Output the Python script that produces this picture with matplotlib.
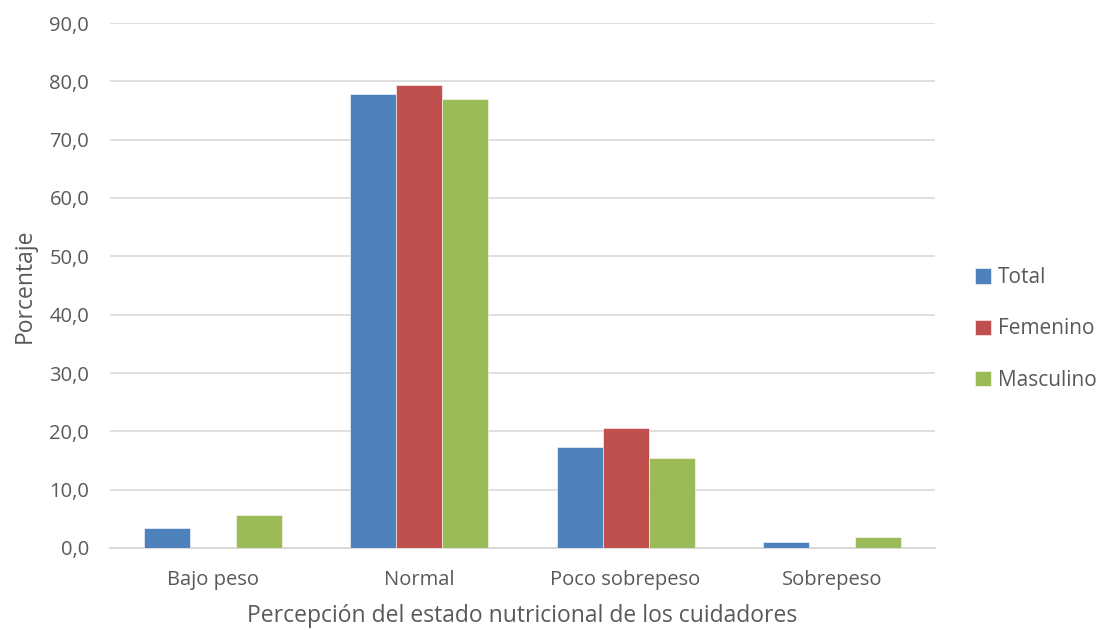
import matplotlib

matplotlib.use("Agg")

import matplotlib.pyplot as plt
import numpy as np
from matplotlib.ticker import FuncFormatter

categories = ["Bajo peso", "Normal", "Poco sobrepeso", "Sobrepeso"]
series_names = ["Total", "Femenino", "Masculino"]
total = [3.4, 77.9, 17.4, 1.1]
femenino = [0.0, 79.3, 20.6, 0.0]
masculino = [5.7, 76.9, 15.4, 1.9]
colors = ["#4f81bd", "#c0504d", "#9bbb59"]
text_color = "#595959"

plt.rcParams["font.family"] = ["Open Sans", "DejaVu Sans"]

W, H = 1098, 630
fig = plt.figure(figsize=(W / 100, H / 100), dpi=100)
ax = fig.add_axes([110 / W, (H - 548) / H, 825 / W, 525 / H])

x = np.arange(len(categories))
width = 0.223
for i, (name, vals) in enumerate(zip(series_names, [total, femenino, masculino])):
    ax.bar(x + (i - 1) * width, vals, width, color=colors[i], label=name,
           edgecolor="white", linewidth=0.4, zorder=3)

ax.set_xlim(-0.5, len(categories) - 0.5)
ax.set_ylim(0, 90)
ax.set_yticks(np.arange(0, 91, 10))
ax.yaxis.set_major_formatter(FuncFormatter(lambda v, _: f"{v:.1f}".replace(".", ",")))
ax.set_xticks(x)
ax.set_xticklabels(categories)
ax.grid(axis="y", color="#d9d9d9", linewidth=1.2, zorder=0)
for side in ["top", "right", "left"]:
    ax.spines[side].set_visible(False)
ax.spines["bottom"].set_color("#d9d9d9")
ax.spines["bottom"].set_linewidth(1.4)
ax.tick_params(axis="both", length=0, labelsize=14.5, colors=text_color)
ax.tick_params(axis="y", pad=15)
ax.tick_params(axis="x", pad=16)

ax.set_xlabel("Percepción del estado nutricional de los cuidadores",
              fontsize=16.5, color=text_color, labelpad=10)
ax.set_ylabel("Porcentaje", fontsize=16.5, color=text_color, labelpad=9)

leg = fig.legend(loc="center left", bbox_to_anchor=(975 / W, (H - 329) / H),
                 frameon=False, fontsize=15, handlelength=0.75, handleheight=0.75,
                 handletextpad=0.35, labelspacing=1.45, labelcolor=text_color,
                 borderaxespad=0, borderpad=0)

fig.savefig("out.png", dpi=100)
